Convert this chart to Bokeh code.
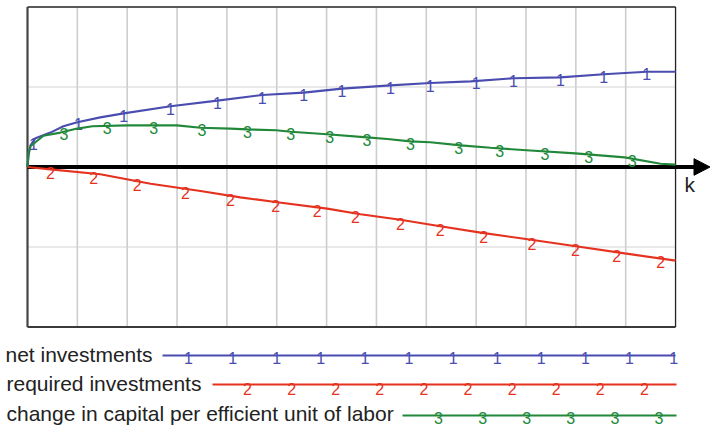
import numpy as np
from bokeh.plotting import figure
from bokeh.models import Range1d
from bokeh.layouts import column
from bokeh.core.properties import value
from bokeh.embed import file_html
from bokeh.resources import INLINE

# ---------------- data ----------------
net_k = [0, 0.02, 0.06, 0.16, 0.46, 0.72, 1.0, 1.46, 1.93, 2.87, 3.81, 4.71, 5.54,
         6.31, 7.28, 8.08, 8.89, 9.75, 10.69, 11.56, 12.42, 13.0]
net_v = [0, 0.14, 0.27, 0.36, 0.43, 0.51, 0.56, 0.62, 0.67, 0.76, 0.83, 0.90, 0.93,
         0.98, 1.02, 1.05, 1.07, 1.11, 1.12, 1.16, 1.19, 1.19]

req_k = [0, 0.46, 1.46, 2.47, 3.47, 4.27, 5.01, 6.01, 6.68, 7.48, 8.28, 9.09, 10.0,
         11.0, 11.98, 13.0]
req_v = [0, -0.03, -0.09, -0.21, -0.30, -0.38, -0.44, -0.52, -0.59, -0.66, -0.74,
         -0.82, -0.90, -0.99, -1.08, -1.17]

chg_k = [0, 0.02, 0.06, 0.32, 0.66, 1.0, 1.3, 2.0, 3.0, 3.47, 4.07, 4.41, 4.99, 5.28,
         6.01, 6.81, 7.22, 7.68, 8.08, 8.69, 9.29, 10.01, 10.99, 11.98, 12.7, 13.0]
chg_v = [0, 0.18, 0.26, 0.39, 0.43, 0.48, 0.51, 0.52, 0.52, 0.49, 0.48, 0.47, 0.46, 0.44,
         0.41, 0.37, 0.35, 0.32, 0.31, 0.27, 0.24, 0.21, 0.17, 0.12, 0.04, 0.03]

# positions of the numbered curve markers along k
net_mk = [0.12, 1.02, 1.93, 2.87, 3.81, 4.71, 5.54, 6.31, 7.28, 8.08, 9.0, 9.75,
          10.69, 11.56, 12.42]
req_mk = [0.46, 1.33, 2.2, 3.17, 4.07, 4.98, 5.81, 6.58, 7.48, 8.28, 9.15, 10.12,
          10.99, 11.82, 12.7]
chg_mk = [0.73, 1.6, 2.53, 3.5, 4.41, 5.28, 6.06, 6.81, 7.68, 8.65, 9.47, 10.38,
          11.26, 12.13]

grid_x = [1, 2, 3, 4, 5, 6, 7, 8, 9, 10, 11, 12]
grid_y = [1, -1]
x_min, x_max = 0, 13
y_min, y_max = -2, 2

labels = ["net investments", "required investments",
          "change in capital per efficient unit of labor"]
marks = ["1", "2", "3"]
axis_label = "k"

# ---------------- styles ----------------
BLUE = "#4a4daf"
RED = "#e5321f"
GREEN = "#21883a"
FONT = value("Liberation Sans")

# ---------------- layout (pixels) ----------------
PX_X0, PX_PER_X = 27.0, 49.85     # x pixel of k=0, px per unit
PX_Y0, PX_PER_Y = 166.5, 80.0     # y pixel of value 0, px per unit
W, H1, H2 = 710, 340, 87


def dx(px):
    return (px - PX_X0) / PX_PER_X


def dy(py):
    return -(py - PX_Y0) / PX_PER_Y


p = figure(width=W, height=H1, x_range=Range1d(dx(0), dx(W)),
           y_range=Range1d(dy(H1), dy(0)), x_axis_type=None, y_axis_type=None,
           toolbar_location=None, output_backend="svg", min_border=0)
p.outline_line_color = None
p.background_fill_color = "white"
p.border_fill_color = "white"

# grid
p.segment(x0=grid_x, y0=[y_min] * len(grid_x), x1=grid_x, y1=[y_max] * len(grid_x),
          line_color="#cdcdcd", line_width=1.6)
p.segment(x0=[x_min] * len(grid_y), y0=grid_y, x1=[x_max] * len(grid_y), y1=grid_y,
          line_color="#d3d3d3", line_width=1.2)

# frame
p.segment(x0=[x_min], y0=[y_max], x1=[x_max], y1=[y_max], line_color="#5a5a5a", line_width=2)
p.segment(x0=[x_min], y0=[y_min], x1=[x_max], y1=[y_min], line_color="#3a3a3a", line_width=2)
p.segment(x0=[x_min], y0=[y_min], x1=[x_min], y1=[y_max], line_color="#444444", line_width=2.2)
p.segment(x0=[x_max], y0=[y_min], x1=[x_max], y1=[y_max], line_color="#222222", line_width=1.3)

# k axis with arrow
tip = dx(709.5)
base = dx(693.5)
half = 8.3 / PX_PER_Y
p.segment(x0=[x_min], y0=[0], x1=[base + 0.05], y1=[0], line_color="black", line_width=4.2)
p.patch(x=[base, tip, base], y=[half, 0, -half], fill_color="black", line_color="black",
        line_width=1)
p.text(x=[dx(684)], y=[dy(184)], text=[axis_label], text_font=FONT,
       text_font_size="21px", text_color="#222222", text_align="left",
       text_baseline="alphabetic")

# series
for ks, vs, mk, col, m, off in [(net_k, net_v, net_mk, BLUE, "1", 2.5),
                                (req_k, req_v, req_mk, RED, "2", 4),
                                (chg_k, chg_v, chg_mk, GREEN, "3", 2.5)]:
    p.line(ks, vs, line_color=col, line_width=2.1)
    p.text(x=mk, y=list(np.interp(mk, ks, vs)), text=[m] * len(mk), text_font=FONT,
           text_font_size="16px", text_color=col, text_align="center",
           text_baseline="middle", y_offset=off)

# ---------------- legend ----------------
leg = figure(width=W, height=H2, x_range=Range1d(0, W), y_range=Range1d(H2, 0),
             x_axis_type=None, y_axis_type=None, toolbar_location=None,
             output_backend="svg", min_border=0)
leg.outline_line_color = None
leg.background_fill_color = "white"
leg.border_fill_color = "white"

text_x = [5, 6, 6]
text_y = [14, 43, 73]
line_y = [15, 44, 75]
line_x0 = [162, 212, 402]
line_x1 = [675, 676, 676]
mark_x0 = [188, 247, 438]
mark_n = [12, 10, 6]
mark_step = 44.1
mark_off = [2.5, 4, 2.5]
cols = [BLUE, RED, GREEN]

leg.text(x=text_x, y=text_y, text=labels, text_font=FONT, text_font_size="21px",
         text_color="#222222", text_align="left", text_baseline="alphabetic")
for i in range(3):
    leg.line([line_x0[i], line_x1[i]], [line_y[i], line_y[i]], line_color=cols[i],
             line_width=2.1)
    xs = [mark_x0[i] + j * mark_step for j in range(mark_n[i])]
    leg.text(x=xs, y=[line_y[i]] * len(xs), text=[marks[i]] * len(xs), text_font=FONT,
             text_font_size="16px", text_color=cols[i], text_align="center",
             text_baseline="middle", y_offset=mark_off[i])

layout = column(p, leg, spacing=0)
open("out.html", "w").write(file_html(layout, INLINE))
